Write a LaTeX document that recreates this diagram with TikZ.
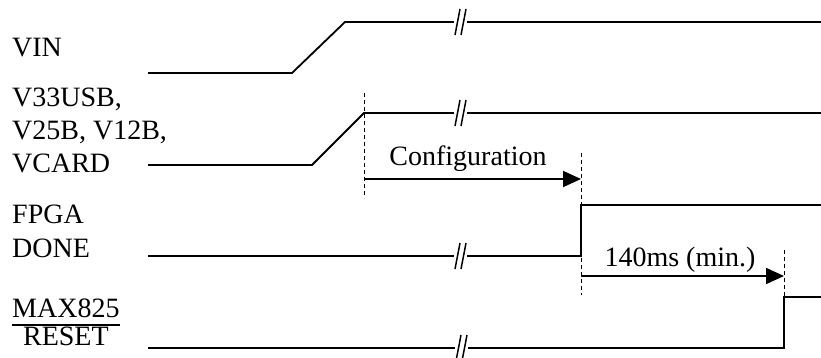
\documentclass[tikz,border=0pt]{standalone}
\usepackage{fontspec}
\setmainfont{Liberation Serif}
\usetikzlibrary{arrows.meta}
\newcommand\brkmark[2]{%
  \fill[white] (#1-7,#2-3) rectangle (#1+6,#2+3);
  \draw[line width=1.5pt] (#1-6,#2+13) -- (#1-1,#2-13) (#1,#2+13) -- (#1+5,#2-13);}
\begin{document}
\begin{tikzpicture}[x=1pt,y=-1pt,
  sig/.style={line width=1.8pt, line join=miter},
  guide/.style={line width=0.9pt, dash pattern=on 4pt off 3pt},
  timing/.style={line width=1.8pt,-{Triangle[length=18pt,width=16pt]}},
  lbl/.style={font=\fontsize{28}{34}\selectfont, inner sep=0pt, anchor=base west},
  tlbl/.style={font=\fontsize{28}{34}\selectfont, inner sep=0pt, anchor=base}]
\useasboundingbox (0,0) rectangle (821,358);

% labels
\node[lbl] (vin) at (12,57) {VIN};
\node[lbl] (v33) at (12,107) {V33USB,};
\node[lbl] (v25) at (12,140) {V25B, V12B,};
\node[lbl] (vcard) at (12,172) {VCARD};
\node[lbl] (fpga) at (12,223) {FPGA};
\node[lbl] (done) at (12,257) {DONE};
\node[lbl] (mx) at (12,317) {MAX825};
\node[tlbl] (rst) at ([yshift=-28pt]mx.base) {RESET};
\draw[line width=1.5pt] ([yshift=-8pt]mx.base west) -- ([yshift=-8pt]mx.base east);

% waveform vertices
\coordinate (a0) at (148,73);  \coordinate (a1) at (292,73);
\coordinate (a2) at (345,22);  \coordinate (a3) at (821,22);
\coordinate (b0) at (148,165); \coordinate (b1) at (312,165);
\coordinate (b2) at (364,113); \coordinate (b3) at (821,113);
\coordinate (c0) at (148,256); \coordinate (c1) at (581,256);
\coordinate (c2) at (581,205); \coordinate (c3) at (821,205);
\coordinate (d0) at (148,348); \coordinate (d1) at (784,348);
\coordinate (d2) at (784,297); \coordinate (d3) at (821,297);

% guides
\draw[guide] (364,93) -- (364,198);
\draw[guide] (581,153) -- (581,295);
\draw[guide] (784,250) -- (d2);

% waveforms
\draw[sig] (a0) -- (a1) -- (a2) -- (a3);
\draw[sig] (b0) -- (b1) -- (b2) -- (b3);
\draw[sig] (c0) -- (c1) -- (c2) -- (c3);
\draw[sig] (d0) -- (d1) -- (d2) -- (d3);

\brkmark{461}{22}
\brkmark{461}{113}
\brkmark{461}{256}
\brkmark{462}{348}

% timing arrows
\coordinate (t1s) at (364,179); \coordinate (t1e) at (581,179);
\coordinate (t2s) at (581,276); \coordinate (t2e) at (784,276);
\draw[timing] (t1s) -- (t1e);
\draw[timing] (t2s) -- (t2e);
\node[tlbl] (cfg) at (468,166) {Configuration};
\node[tlbl] (t140) at (680,266) {140ms (min.)};
\end{tikzpicture}
\end{document}
